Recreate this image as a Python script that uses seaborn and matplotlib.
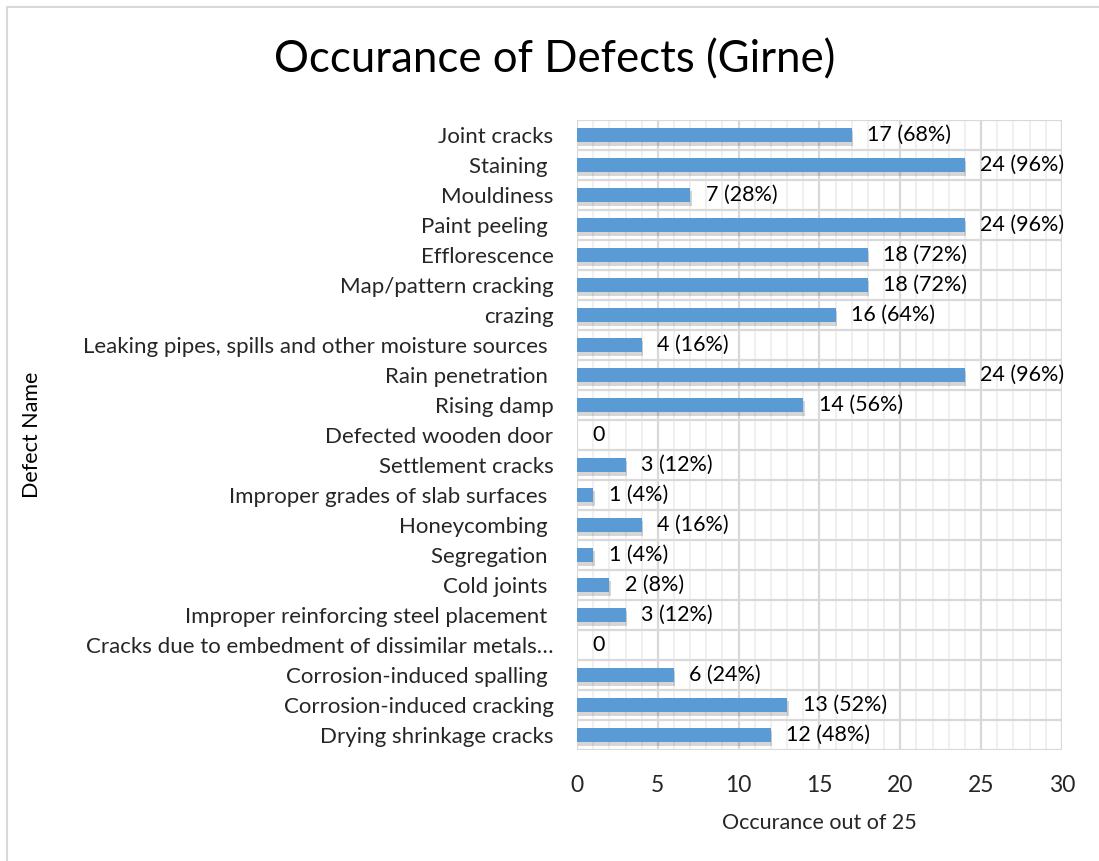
import matplotlib
matplotlib.use("Agg")
import matplotlib.pyplot as plt
import matplotlib.patheffects as pe
from matplotlib.patches import Rectangle
import seaborn as sns
import pandas as pd

# Defect names (top to bottom) and number of buildings showing each defect
defects = [
    "Joint cracks",
    "Staining ",
    "Mouldiness",
    "Paint peeling ",
    "Efflorescence",
    "Map/pattern cracking",
    "crazing",
    "Leaking pipes, spills and other moisture sources ",
    "Rain penetration ",
    "Rising damp",
    "Defected wooden door",
    "Settlement cracks",
    "Improper grades of slab surfaces ",
    "Honeycombing ",
    "Segregation ",
    "Cold joints ",
    "Improper reinforcing steel placement ",
    "Cracks due to embedment of dissimilar metals…",
    "Corrosion-induced spalling ",
    "Corrosion-induced cracking",
    "Drying shrinkage cracks",
]
counts = [17, 24, 7, 24, 18, 18, 16, 4, 24, 14, 0, 3, 1, 4, 1, 2, 3, 0, 6, 13, 12]
total = 25
x_ticks = [0, 5, 10, 15, 20, 25, 30]

df = pd.DataFrame({"defect": defects, "count": counts})

sns.set_theme(style="white")
plt.rcParams["font.family"] = ["Lato", "DejaVu Sans"]

fig = plt.figure(figsize=(10.99, 8.61), dpi=100)
ax = fig.add_axes([577 / 1099, 1 - 750 / 861, (1062 - 577) / 1099, (750 - 120) / 861])

bar_color = "#5b9bd5"
sns.barplot(data=df, x="count", y="defect", orient="h", color=bar_color,
            width=0.47, saturation=1, ax=ax, zorder=3)
for p in ax.patches:
    p.set_edgecolor("none")
    p.set_path_effects([pe.SimplePatchShadow(offset=(1, -2.5), shadow_rgbFace="#000000", alpha=0.16),
                        pe.Normal()])

ax.set_xlim(0, 30)
ax.set_ylim(len(defects) - 0.5, -0.5)
ax.set_xticks(x_ticks)

# Grid: minor vertical lines every 1, major every 5, horizontal lines between categories
ax.grid(False)
for xv in range(0, 31):
    ax.axvline(xv, color="#d9d9d9" if xv % 5 == 0 else "#eeeeee",
               lw=1.6 if xv % 5 == 0 else 1.2, zorder=1)
for yb in range(len(defects) + 1):
    ax.axhline(yb - 0.5, color="#d9d9d9", lw=1.6, zorder=1)

for s in ax.spines.values():
    s.set_visible(False)

ax.tick_params(axis="both", length=0)
ax.tick_params(axis="y", pad=17, labelsize=16)
ax.tick_params(axis="x", pad=18, labelsize=16.5)
ax.set_ylabel("")
ax.set_xlabel("Occurance out of 25", fontsize=15.5, labelpad=12)

for i, v in enumerate(counts):
    label = "0" if v == 0 else f"{v} ({round(v / total * 100)}%)"
    ax.text(v + 0.95, i, label, va="center", ha="left", fontsize=15.5, color="#000000", zorder=4)

fig.text(555 / 1099, 1 - 60 / 861, "Occurance of Defects (Girne)", ha="center", va="center",
         fontsize=31.5, color="#000000")
fig.text(32 / 1099, 1 - 435 / 861, "Defect Name", rotation=90, ha="center", va="center",
         fontsize=15.5, color="#000000")

# Chart frame
fig.patches.append(Rectangle((7 / 1099, -0.05), 1.2, 1 - 7 / 861 + 0.05, transform=fig.transFigure,
                             fill=False, edgecolor="#d9d9d9", lw=1.5))

fig.savefig("out.png", dpi=100)
